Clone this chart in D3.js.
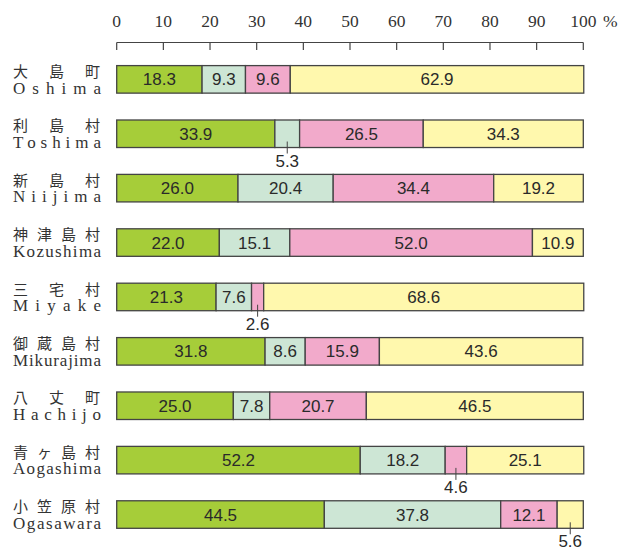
<!DOCTYPE html>
<html>
<head>
<meta charset="utf-8">
<script src="https://cdn.jsdelivr.net/npm/d3@7"></script>
<style>
  body { margin: 0; background: #fff; }
  svg { display: block; }
</style>
</head>
<body>
<svg id="chart" width="621" height="547"></svg>
<script>
// island names, japanese line + romanised line
var namesJa = ['大島町', '利島村', '新島村', '神津島村', '三宅村', '御蔵島村', '八丈町', '青ヶ島村', '小笠原村'];
var namesEn = ['Oshima', 'Toshima', 'Niijima', 'Kozushima', 'Miyake', 'Mikurajima', 'Hachijo', 'Aogashima', 'Ogasawara'];

// four shares per island, percent
var share1 = [18.3, 33.9, 26.0, 22.0, 21.3, 31.8, 25.0, 52.2, 44.5];
var share2 = [9.3, 5.3, 20.4, 15.1, 7.6, 8.6, 7.8, 18.2, 37.8];
var share3 = [9.6, 26.5, 34.4, 52.0, 2.6, 15.9, 20.7, 4.6, 12.1];
var share4 = [62.9, 34.3, 19.2, 10.9, 68.6, 43.6, 46.5, 25.1, 5.6];

var tickValues = [0, 10, 20, 30, 40, 50, 60, 70, 80, 90, 100];
var segColors = ['#a6cd39', '#cde6d5', '#f2aacb', '#fff8ad'];

var svg = d3.select('#chart');

var x = d3.scaleLinear().domain([0, 100]).range([116.7, 583.3]);
var y = d3.scaleBand().domain(namesEn).range([65.6, 528.3]).paddingInner(0.494).paddingOuter(0);

// top axis: line with ticks hanging down, serif labels above
var axisY = 42.5;
var axis = svg.append('g');
axis.append('line')
  .attr('x1', x(0)).attr('x2', x(100))
  .attr('y1', axisY).attr('y2', axisY)
  .style('stroke', '#444').style('stroke-width', 1.2);
axis.selectAll('line.tick')
  .data(tickValues)
  .enter().append('line')
  .classed('tick', true)
  .attr('x1', function(d) { return x(d); })
  .attr('x2', function(d) { return x(d); })
  .attr('y1', axisY).attr('y2', axisY + 7.5)
  .style('stroke', '#444').style('stroke-width', 1.2);
axis.selectAll('text.tl')
  .data(tickValues)
  .enter().append('text')
  .classed('tl', true)
  .attr('x', function(d) { return x(d); })
  .attr('y', 27)
  .attr('text-anchor', 'middle')
  .style('font-family', '"Liberation Serif", "DejaVu Serif", serif')
  .style('font-size', '17.5px')
  .style('fill', '#333')
  .text(function(d) { return d; });
axis.append('text')
  .attr('x', 603)
  .attr('y', 27)
  .style('font-family', '"Liberation Serif", "DejaVu Serif", serif')
  .style('font-size', '17.5px')
  .style('fill', '#333')
  .text('%');

// row labels, justified across the same width
var labelLeft = 13, labelRight = 101;
var jaSize = 15;
namesJa.forEach(function(name, i) {
  var top = y(namesEn[i]);
  var chars = Array.from(name);
  var gap = (labelRight - 1 - labelLeft - jaSize) / (chars.length - 1);
  svg.append('g').selectAll('text')
    .data(chars)
    .enter().append('text')
    .attr('x', function(c, k) { return labelLeft + k * gap; })
    .attr('y', top + 11.5)
    .style('font-family', '"Noto Sans CJK JP", sans-serif')
    .style('font-size', jaSize + 'px')
    .style('fill', '#333')
    .text(function(c) { return c; });
});

namesEn.forEach(function(name, i) {
  var top = y(name);
  var t = svg.append('text')
    .attr('y', top + y.bandwidth() + 0.5)
    .style('font-family', '"Liberation Serif", "DejaVu Serif", serif')
    .style('font-size', '17px')
    .style('fill', '#333');
  var chars = Array.from(name);
  var tspans = t.selectAll('tspan').data(chars).enter().append('tspan').text(function(c) { return c; });
  // measure natural widths, then spread gaps evenly
  var widths = [];
  tspans.each(function() { widths.push(this.getComputedTextLength()); });
  var total = d3.sum(widths);
  var gap = Math.max(0, (labelRight - labelLeft - total) / (chars.length - 1));
  var pos = labelLeft;
  tspans.attr('x', function(c, k) {
    var p = pos;
    pos += widths[k] + gap;
    return p;
  });
});

// stacked segments
var rows = namesEn.map(function(name, i) {
  return { name: name, vals: [share1[i], share2[i], share3[i], share4[i]] };
});

rows.forEach(function(row) {
  var top = y(row.name);
  var h = y.bandwidth();
  var start = 0;
  row.vals.forEach(function(v, k) {
    var x0 = x(start), x1 = x(start + v);
    var mid = (x0 + x1) / 2;
    svg.append('rect')
      .attr('x', x0).attr('y', top)
      .attr('width', x1 - x0).attr('height', h)
      .style('fill', segColors[k])
      .style('stroke', '#444')
      .style('stroke-width', 1.3);
    var label = v.toFixed(1);
    if (v < 6) {
      // too narrow: callout below the bar
      svg.append('line')
        .attr('x1', mid).attr('x2', mid)
        .attr('y1', top + h - 6).attr('y2', top + h + 6)
        .style('stroke', '#444').style('stroke-width', 1);
      svg.append('text')
        .attr('x', mid)
        .attr('y', top + h + 19)
        .attr('text-anchor', 'middle')
        .style('font-family', '"Liberation Sans", Arial, sans-serif')
        .style('font-size', '17px')
        .style('fill', '#2a2a2a')
        .text(label);
    } else {
      svg.append('text')
        .attr('x', mid)
        .attr('y', top + h / 2 + 6)
        .attr('text-anchor', 'middle')
        .style('font-family', '"Liberation Sans", Arial, sans-serif')
        .style('font-size', '17px')
        .style('fill', '#2a2a2a')
        .text(label);
    }
    start += v;
  });
});
</script>
</body>
</html>
